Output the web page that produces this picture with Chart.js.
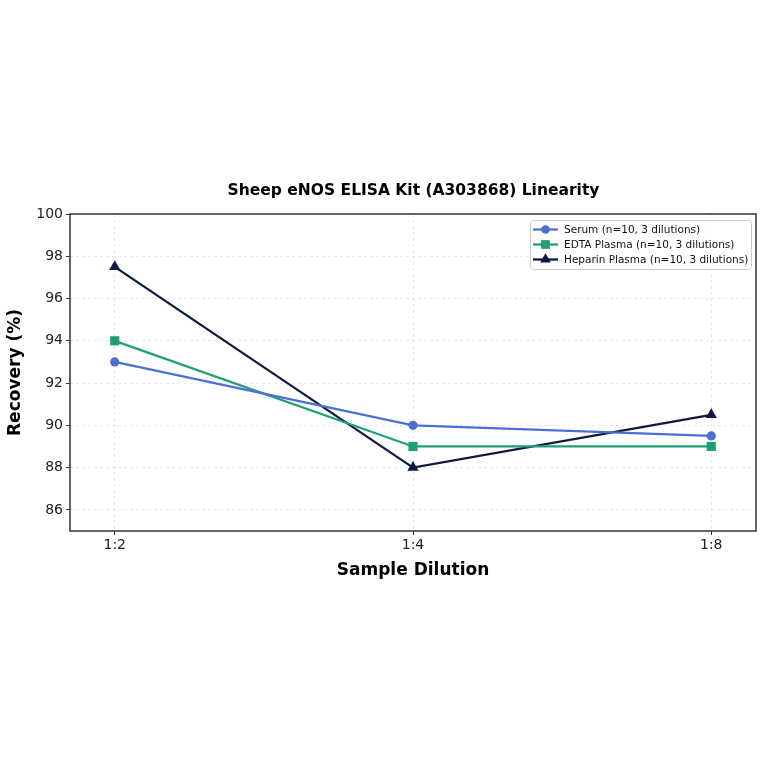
<!DOCTYPE html>
<html><head><meta charset="utf-8">
<script src="https://cdn.jsdelivr.net/npm/chart.js@4.4.0/dist/chart.umd.min.js"></script>
<style>html,body{margin:0;padding:0;background:#fff}#wrap{width:764px;height:764px}</style>
</head><body><div id="wrap"><canvas id="c" width="764" height="764"></canvas></div>
<script>
const categories = ['1:2', '1:4', '1:8'];
const serum = [93.0, 90.0, 89.5];
const edta = [94.0, 89.0, 89.0];
const heparin = [97.5, 88.0, 90.5];
const seriesNames = ['Serum (n=10, 3 dilutions)', 'EDTA Plasma (n=10, 3 dilutions)', 'Heparin Plasma (n=10, 3 dilutions)'];
const yTicks = [86, 88, 90, 92, 94, 96, 98, 100];
const titleText = 'Sheep eNOS ELISA Kit (A303868) Linearity';
const xTitle = 'Sample Dilution';
const yTitle = 'Recovery (%)';

const colors = ['#4b6fd6', '#1f9e77', '#0e1a40'];
const styles = ['circle', 'rect', 'triangle'];
const radii = [4.6, 6.5, 6.5];
const FONT = "'DejaVu Sans', sans-serif";

function pts(arr){ return arr.map((v,i)=>({x:i,y:v})); }

const datasets = [serum, edta, heparin].map((arr,k)=>({
  label: seriesNames[k],
  data: pts(arr),
  borderColor: colors[k],
  backgroundColor: colors[k],
  borderWidth: 2.3,
  pointStyle: styles[k],
  pointRadius: radii[k],
  pointBorderWidth: 0,
  pointHoverRadius: radii[k],
  tension: 0
}));

const decor = {
  id: 'decor',
  afterDraw(chart){
    const ctx = chart.ctx, a = chart.chartArea;
    ctx.save();
    ctx.strokeStyle = '#333';
    ctx.lineWidth = 1.5;
    ctx.strokeRect(a.left, a.top, a.right - a.left, a.bottom - a.top);
    ctx.fillStyle = '#000';
    ctx.textAlign = 'center';
    ctx.textBaseline = 'middle';
    ctx.font = 'bold 15.5px ' + FONT;
    ctx.fillText(titleText, (a.left + a.right)/2 + 0.5, 191);
    ctx.font = 'bold 17px ' + FONT;
    ctx.fillText(xTitle, (a.left + a.right)/2, 571);
    ctx.save();
    ctx.translate(16, (a.top + a.bottom)/2);
    ctx.rotate(-Math.PI/2);
    ctx.fillText(yTitle, 0, 0);
    ctx.restore();
    // legend
    const bx = 530, by = 220, bw = 221, bh = 49;
    ctx.fillStyle = 'rgba(255,255,255,0.85)';
    ctx.strokeStyle = '#cccccc';
    ctx.lineWidth = 1;
    ctx.beginPath();
    ctx.roundRect(bx + 0.5, by + 0.5, bw, bh, 3);
    ctx.fill(); ctx.stroke();
    ctx.font = '10.5px ' + FONT;
    ctx.textAlign = 'left';
    for (let k = 0; k < 3; k++) {
      const y = by + 9.5 + k*15;
      ctx.strokeStyle = colors[k];
      ctx.lineWidth = 2.3;
      ctx.beginPath(); ctx.moveTo(533, y); ctx.lineTo(558, y); ctx.stroke();
      ctx.fillStyle = colors[k];
      Chart.helpers.drawPoint(ctx, {pointStyle: styles[k], radius: radii[k]*0.95, borderWidth: 0, rotation: 0}, 545.5, y);
      ctx.fillStyle = '#111';
      ctx.fillText(seriesNames[k], 564, y + 0.5);
    }
    ctx.restore();
  }
};

new Chart(document.getElementById('c'), {
  type: 'line',
  data: { datasets },
  options: {
    responsive: false,
    animation: false,
    devicePixelRatio: 1,
    layout: { padding: { top: 214, right: 8, left: 0, bottom: 0 } },
    plugins: { legend: { display: false }, tooltip: { enabled: false }, title: { display: false } },
    scales: {
      x: {
        type: 'linear',
        min: -0.15, max: 2.15,
        afterBuildTicks(s){ s.ticks = categories.map((c,i)=>({value:i})); },
        afterFit(s){ s.height = 764 - 531; },
        ticks: { callback: (v)=>categories[v], color: '#222', font: { family: FONT, size: 14 }, padding: 2, maxRotation: 0 },
        grid: { color: 'rgba(0,0,0,0.09)', tickColor: '#333', tickLength: 4, tickWidth: 1 },
        border: { display: false, dash: [3,3] }
      },
      y: {
        type: 'linear',
        min: 85, max: 100,
        afterBuildTicks(s){ s.ticks = yTicks.map(v=>({value:v})); },
        afterFit(s){ s.width = 70; },
        ticks: { color: '#222', font: { family: FONT, size: 14 }, padding: 3 },
        grid: { color: 'rgba(0,0,0,0.09)', tickColor: '#333', tickLength: 4, tickWidth: 1 },
        border: { display: false, dash: [3,3] }
      }
    }
  },
  plugins: [decor]
});
</script></body></html>
